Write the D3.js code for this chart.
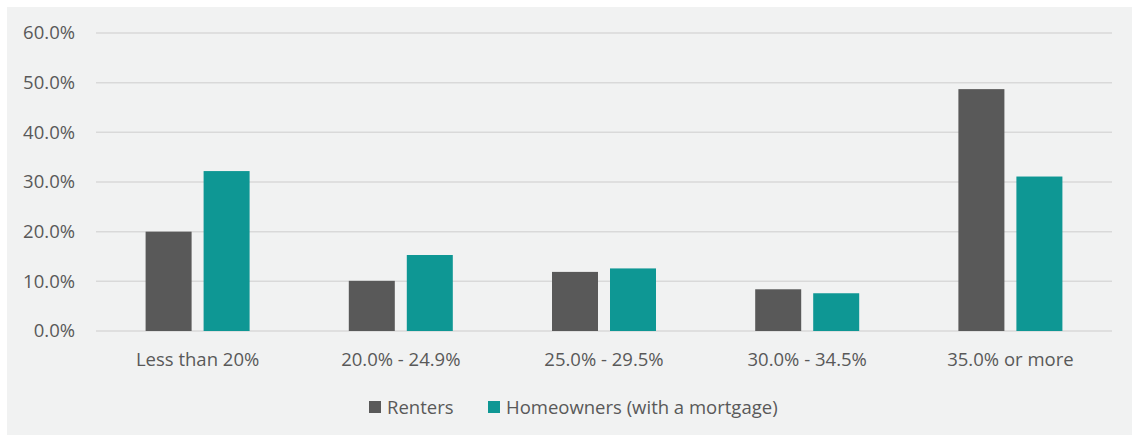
<!DOCTYPE html>
<html>
<head>
<meta charset="utf-8">
<script src="https://cdn.jsdelivr.net/npm/d3@7"></script>
<style>
  html, body { margin: 0; padding: 0; background: #ffffff; }
  svg { display: block; }
  text { font-family: "Open Sans", Lato, sans-serif; fill: #595959; }
</style>
</head>
<body>
<svg id="chart" width="1132" height="435"></svg>
<script>
// Share of household income spent on housing costs
const categories = ["Less than 20%", "20.0% - 24.9%", "25.0% - 29.5%", "30.0% - 34.5%", "35.0% or more"];
const seriesNames = ["Renters", "Homeowners (with a mortgage)"];
const renters = [20.0, 10.1, 11.9, 8.4, 48.7];
const homeowners = [32.2, 15.3, 12.6, 7.6, 31.1];
const yTicks = [0, 10, 20, 30, 40, 50, 60];
const colors = ["#595959", "#0e9794"];

const FONT = "'Open Sans', Lato, sans-serif";
const FS = 18.5;

const svg = d3.select("#chart");
const W = 1132, H = 435;

// panel background
svg.append("rect")
  .attr("x", 7).attr("y", 7)
  .attr("width", W - 7).attr("height", H - 7)
  .attr("fill", "#f1f2f2");

const plot = { left: 96, right: 1112, top: 33, bottom: 331 };

const x = d3.scaleBand()
  .domain(categories)
  .range([plot.left, plot.right])
  .paddingInner(0).paddingOuter(0);

const y = d3.scaleLinear()
  .domain([0, 60])
  .range([plot.bottom, plot.top]);

// gridlines
svg.append("g")
  .selectAll("line")
  .data(yTicks)
  .join("line")
  .attr("x1", plot.left).attr("x2", plot.right)
  .attr("y1", d => y(d)).attr("y2", d => y(d))
  .attr("stroke", "#d9d9d9")
  .attr("stroke-width", 1.5);

// y axis labels
const yAxis = d3.axisLeft(y)
  .tickValues(yTicks)
  .tickFormat(d => d.toFixed(1) + "%")
  .tickSize(0)
  .tickPadding(21);
const gy = svg.append("g")
  .attr("transform", `translate(${plot.left},0)`)
  .call(yAxis);
gy.select(".domain").remove();
gy.selectAll("text")
  .attr("font-size", FS)
  .attr("fill", "#595959")
  .style("font-family", FONT);

// x axis labels
const xAxis = d3.axisBottom(x).tickSize(0).tickPadding(22);
const gx = svg.append("g")
  .attr("transform", `translate(0,${plot.bottom})`)
  .call(xAxis);
gx.select(".domain").remove();
gx.selectAll("text")
  .attr("font-size", FS)
  .attr("fill", "#595959")
  .style("font-family", FONT);

// bars
const barW = 46, gap = 12;
const xSub = d3.scaleOrdinal()
  .domain(seriesNames)
  .range([-(barW + gap / 2), gap / 2]);

const rows = categories.map((c, i) => ({
  cat: c,
  values: [
    { key: seriesNames[0], v: renters[i] },
    { key: seriesNames[1], v: homeowners[i] }
  ]
}));

const color = d3.scaleOrdinal().domain(seriesNames).range(colors);

svg.append("g")
  .selectAll("g")
  .data(rows)
  .join("g")
  .attr("transform", d => `translate(${x(d.cat) + x.bandwidth() / 2},0)`)
  .selectAll("rect")
  .data(d => d.values)
  .join("rect")
  .attr("x", d => xSub(d.key))
  .attr("width", barW)
  .attr("y", d => y(d.v))
  .attr("height", d => y(0) - y(d.v))
  .attr("fill", d => color(d.key));

// legend
const legend = svg.append("g").attr("transform", "translate(369,401)");
const legendItems = [
  { name: seriesNames[0], dx: 0 },
  { name: seriesNames[1], dx: 119 }
];
const li = legend.selectAll("g")
  .data(legendItems)
  .join("g")
  .attr("transform", d => `translate(${d.dx},0)`);
li.append("rect")
  .attr("width", 12).attr("height", 12)
  .attr("fill", d => color(d.name));
li.append("text")
  .attr("x", 18).attr("y", 7)
  .attr("dy", "0.35em")
  .attr("font-size", FS)
  .style("font-family", FONT)
  .text(d => d.name);
</script>
</body>
</html>
